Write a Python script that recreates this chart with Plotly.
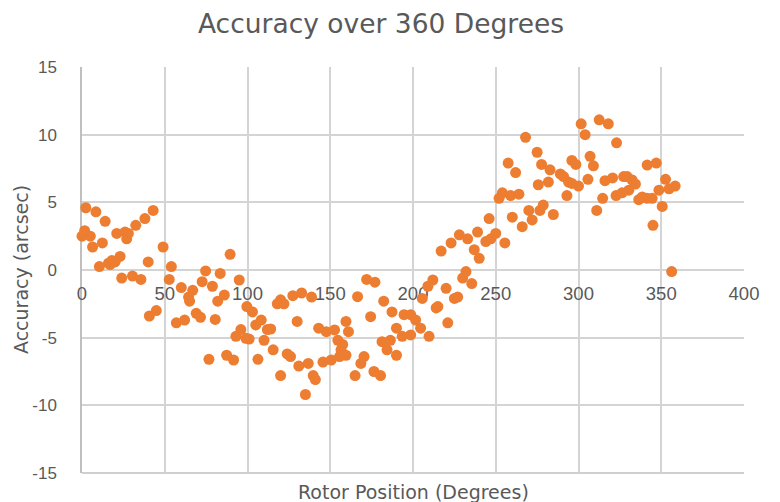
import plotly.graph_objects as go

# Rotor position (degrees) and accuracy (arcsec)
rotor_deg = [
    0, 1.6, 2.3, 5, 6.4, 8.4, 10.5, 12.3, 14, 16, 17, 18, 20, 21, 23, 24, 26, 27, 28, 30.5,
    32.5, 35.6, 38, 40, 40.7, 43, 44.9, 49, 52.7, 54, 57, 60, 62, 64.4, 65, 66.9, 69, 71.6,
    72.6, 74.7, 76.7, 78.8, 80.5, 82, 83.5, 86, 87.4, 89.5, 91.6, 93, 95, 96,
    99, 99.6, 101, 103, 105, 106.3, 108.3, 110, 112, 114, 115.5, 118, 120, 120, 122, 124,
    126, 127.4, 130, 131, 132.7, 135, 136.7, 138.7, 139.7, 141, 143, 145.6, 147.6, 150.6,
    152.6, 154.6, 155.6, 156.5, 157.5, 159.5, 159.5, 161, 165, 166.5, 168.5, 170.4, 172,
    174.4, 176.4, 177, 180.4, 181.3, 182.3, 184.3, 186.3, 187.3, 190, 190,
    193.5, 194.6, 198.6, 198.6, 201.6, 204.6, 205.6, 209, 209.7, 212, 214, 215, 217, 220,
    221, 223, 225, 227, 228, 230, 232, 233, 235.5, 237, 239, 240, 244, 246, 247, 250, 252,
    254, 255.5, 257.5, 259, 260, 262, 264, 266, 268, 270, 272, 275,
    275.7, 276.7, 277.7, 278.7, 281.8, 282.8, 284.8, 289, 291, 293, 294, 296, 296, 298.4,
    300, 301.6, 304, 305.7, 307, 309, 311, 312.5, 314.6, 316, 318, 320.6, 322.7, 323, 326.3,
    327.3, 329.4, 330.4, 332.4, 334.4, 336.4, 338.5, 341.5, 341.5, 344.5, 345, 347, 348.6,
    350.6, 352.6, 354.7, 356.3, 358.4,
]
accuracy_arcsec = [
    2.5, 2.9, 4.6, 2.5, 1.7, 4.3, 0.25, 2.0, 3.6, 0.5, 0.4, 0.7, 0.6, 2.7, 1.0, -0.6, 2.8, 2.3, 2.7, -0.45,
    3.3, -0.7, 3.8, 0.6, -3.4, 4.4, -3.0, 1.7, -0.7, 0.25, -3.9, -1.3, -3.7, -2.0, -2.3, -1.5, -3.2, -3.5,
    -0.86, -0.07, -6.6, -1.2, -3.65, -2.3, -0.25, -1.85, -6.3, 1.16, -6.65, -4.9, -0.74, -4.4,
    -5.05, -2.7, -5.1, -3.1, -4.06, -6.6, -3.7, -5.2, -4.4, -4.36, -5.9, -2.5, -2.2, -7.8, -2.5, -6.2,
    -6.4, -1.9, -3.8, -7.1, -1.7, -9.2, -6.9, -2.0, -7.8, -8.1, -4.3, -6.8, -4.56, -6.65,
    -4.43, -5.2, -6.4, -5.9, -5.5, -6.3, -3.8, -4.56, -7.8, -1.97, -6.9, -6.4, -0.7,
    -3.45, -7.5, -0.9, -7.8, -5.3, -2.3, -5.9, -5.2, -3.1, -6.3, -4.3,
    -4.9, -3.3, -3.3, -4.8, -3.7, -4.3, -2.1, -1.2, -4.9, -0.74, -2.8, -2.7, 1.4, -1.35,
    -3.9, 2.0, -2.1, -2.0, 2.6, -0.6, -0.12, 2.3, -1.0, 1.5, 2.8, 0.86, 2.1, 3.8, 2.3, 2.7, 5.3,
    5.7, 2.0, 7.9, 5.5, 3.9, 7.2, 5.6, 3.2, 9.8, 4.4, 3.7, 8.7,
    6.3, 4.4, 7.8, 4.8, 6.5, 7.4, 4.1, 7.1, 6.9, 5.5, 6.5, 6.4, 8.1, 7.8,
    6.2, 10.8, 10.0, 6.7, 8.4, 7.7, 4.4, 11.1, 5.3, 6.6, 10.8, 6.8, 5.5, 9.4, 5.7,
    6.9, 6.9, 5.9, 6.65, 6.35, 5.2, 5.4, 5.3, 7.75, 5.3, 3.3, 7.9, 5.9,
    4.7, 6.7, 6.0, -0.12, 6.2,
]

x_ticks = [0, 50, 100, 150, 200, 250, 300, 350, 400]
y_ticks = [-15, -10, -5, 0, 5, 10, 15]

TEXT = "#595959"
GRID = "#D4D4D4"
AXIS = "#BFBFBF"
ORANGE = "#ED7D31"

# the page has an 8px body margin, so the figure is 8px smaller and shifted
W, H = 772, 494
ML, MR, MT, MB = 74, 36, 59, 29
PW = W - ML - MR

fig = go.Figure(
    go.Scatter(
        x=rotor_deg,
        y=accuracy_arcsec,
        mode="markers",
        marker=dict(color=ORANGE, size=11, line=dict(width=0)),
        cliponaxis=False,
        hoverinfo="x+y",
    )
)

fig.update_layout(
    width=W,
    height=H,
    margin=dict(l=ML, r=MR, t=MT, b=MB),
    paper_bgcolor="white",
    plot_bgcolor="white",
    showlegend=False,
    title=dict(
        text="Accuracy over 360 Degrees",
        font=dict(family="DejaVu Sans", size=26.5, color=TEXT),
        x=373 / W,
        xanchor="center",
        xref="container",
        y=1 - 16 / H,
        yanchor="middle",
        yref="container",
    ),
    xaxis=dict(
        range=[0, 400],
        tickvals=x_ticks,
        ticktext=[str(v) for v in x_ticks],
        showgrid=True,
        gridcolor=GRID,
        gridwidth=1.5,
        zeroline=False,
        showline=False,
        ticks="",
        anchor="free",
        position=0.5,
        ticklabelstandoff=10,
        tickfont=dict(family="Liberation Sans", size=18.5, color=TEXT),
        layer="below traces",
    ),
    yaxis=dict(
        range=[-15, 15],
        tickvals=y_ticks,
        ticktext=[str(v) for v in y_ticks],
        showgrid=True,
        gridcolor=GRID,
        gridwidth=1.5,
        zeroline=False,
        showline=True,
        linecolor=AXIS,
        linewidth=1.5,
        ticks="",
        ticklabelstandoff=20,
        tickfont=dict(family="Liberation Sans", size=17, color=TEXT),
        layer="below traces",
    ),
    shapes=[
        dict(type="line", xref="paper", yref="paper", x0=0, x1=1, y0=0, y1=0,
             line=dict(color=AXIS, width=1.5), layer="below"),
    ],
    annotations=[
        dict(
            text="Rotor Position (Degrees)",
            x=0.5, xref="paper", xanchor="center",
            y=-19 / 406, yref="paper", yanchor="middle",
            showarrow=False,
            font=dict(family="DejaVu Sans", size=19, color=TEXT),
        ),
        dict(
            text="Accuracy (arcsec)",
            x=(13 - ML) / PW, xref="paper", xanchor="center",
            y=0.5, yref="paper", yanchor="middle",
            showarrow=False, textangle=-90,
            font=dict(family="DejaVu Sans", size=19, color=TEXT),
        ),
    ],
)

fig.write_html("out.html")
